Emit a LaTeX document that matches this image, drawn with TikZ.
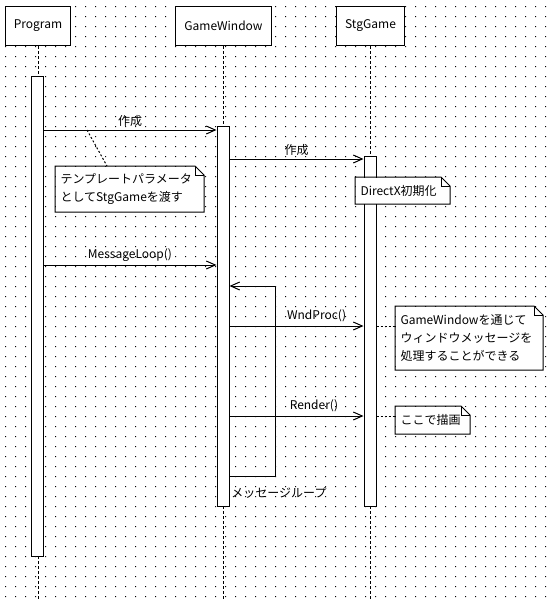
\documentclass[tikz,border=0pt]{standalone}
\usepackage{fontspec}
\setmainfont{Noto Sans CJK JP}
\usetikzlibrary{arrows.meta,calc}

% folded corner of a note
\newcommand\notefold[1]{%
  \draw (#1.north west) -- ($(#1.north east)+(-9,0)$) -- ($(#1.north east)+(0,9)$)
    -- (#1.south east) -- (#1.south west) -- cycle;
  \draw ($(#1.north east)+(-9,0)$) -- ++(0,9) -- ++(9,0);
}

\begin{document}
\begin{tikzpicture}[x=1pt,y=-1pt,line width=1pt,
  font=\fontsize{12}{18}\selectfont,
  objbox/.style={draw,fill=white,minimum height=39,inner sep=0pt,anchor=north west},
  actbar/.style={draw,fill=white,minimum width=12,inner sep=0pt,anchor=north},
  lifeline/.style={dash pattern=on 3pt off 2pt},
  msg/.style={-{Straight Barb[length=9pt,width=8pt]}},
  notebox/.style={fill=white,inner sep=5,anchor=north west,align=left},
  noteline/.style={dash pattern=on 2pt off 2pt}]
\useasboundingbox (0,0) rectangle (550,600);
\fill[white] (0,0) rectangle (550,600);
% dotted grid
\fill[black] \foreach \gx in {5,15,...,545}{\foreach \gy in {6,16,...,596}{(\gx,\gy) rectangle ++(1,1)}};

% objects
\node[objbox,minimum width=65] (prog) at (5,6) {Program};
\node[objbox,minimum width=96] (gwin) at (175,6) {GameWindow};
\node[objbox,minimum width=68] (stg) at (336,6) {StgGame};

% lifelines
\draw[lifeline] (prog.south) -- (prog.south |- 0,600);
\draw[lifeline] (gwin.south) -- (gwin.south |- 0,600);
\draw[lifeline] (stg.south) -- (stg.south |- 0,600);

% activations
\node[actbar,minimum height=480] (actP) at (37,76) {};
\node[actbar,minimum height=380] (actG) at (223,126) {};
\node[actbar,minimum height=350] (actS) at (370,156) {};

% messages
\draw[msg] (actP.east |- 0,130) -- (actG.west |- 0,130) node[midway,above] {作成};
\draw[msg] (actG.east |- 0,159) -- (actS.west |- 0,159) node[midway,above] {作成};
\draw[msg] (actP.east |- 0,265) -- (actG.west |- 0,265) node[midway,above] {MessageLoop()};
\coordinate (loopR) at (275,286);
\draw[msg] (actG.east |- 0,476) -| (loopR) -- (actG.east |- loopR);
\draw[msg] (actG.east |- 0,326) -- (actS.west |- 0,326) node[pos=0.65,above] {WndProc()};
\draw[msg] (actG.east |- 0,416) -- (actS.west |- 0,416) node[pos=0.63,above] {Render()};
\node (looplbl) at (279,493) {メッセージループ};

% notes
\node[notebox,text width=138,minimum height=45] (note1) at (55,166)
  {テンプレートパラメータ\\としてStgGameを渡す};
\notefold{note1}
\coordinate (c1) at (87,130);
\draw[noteline] (c1) -- ($(note1.north west)+(52,0)$);

\node[notebox,text width=84,minimum height=26] (note2) at (355,177) {DirectX初期化};
\notefold{note2}

\node[notebox,text width=137,minimum height=63] (note3) at (395,306)
  {GameWindowを通じて\\ウィンドウメッセージを\\処理することができる};
\notefold{note3}
\draw[noteline] (actS.east |- 0,326) -- (note3.west |- 0,326);

\node[notebox,text width=64,minimum height=27] (note4) at (395,406) {ここで描画};
\notefold{note4}
\draw[noteline] (actS.east |- 0,416) -- (note4.west |- 0,416);
\end{tikzpicture}
\end{document}
